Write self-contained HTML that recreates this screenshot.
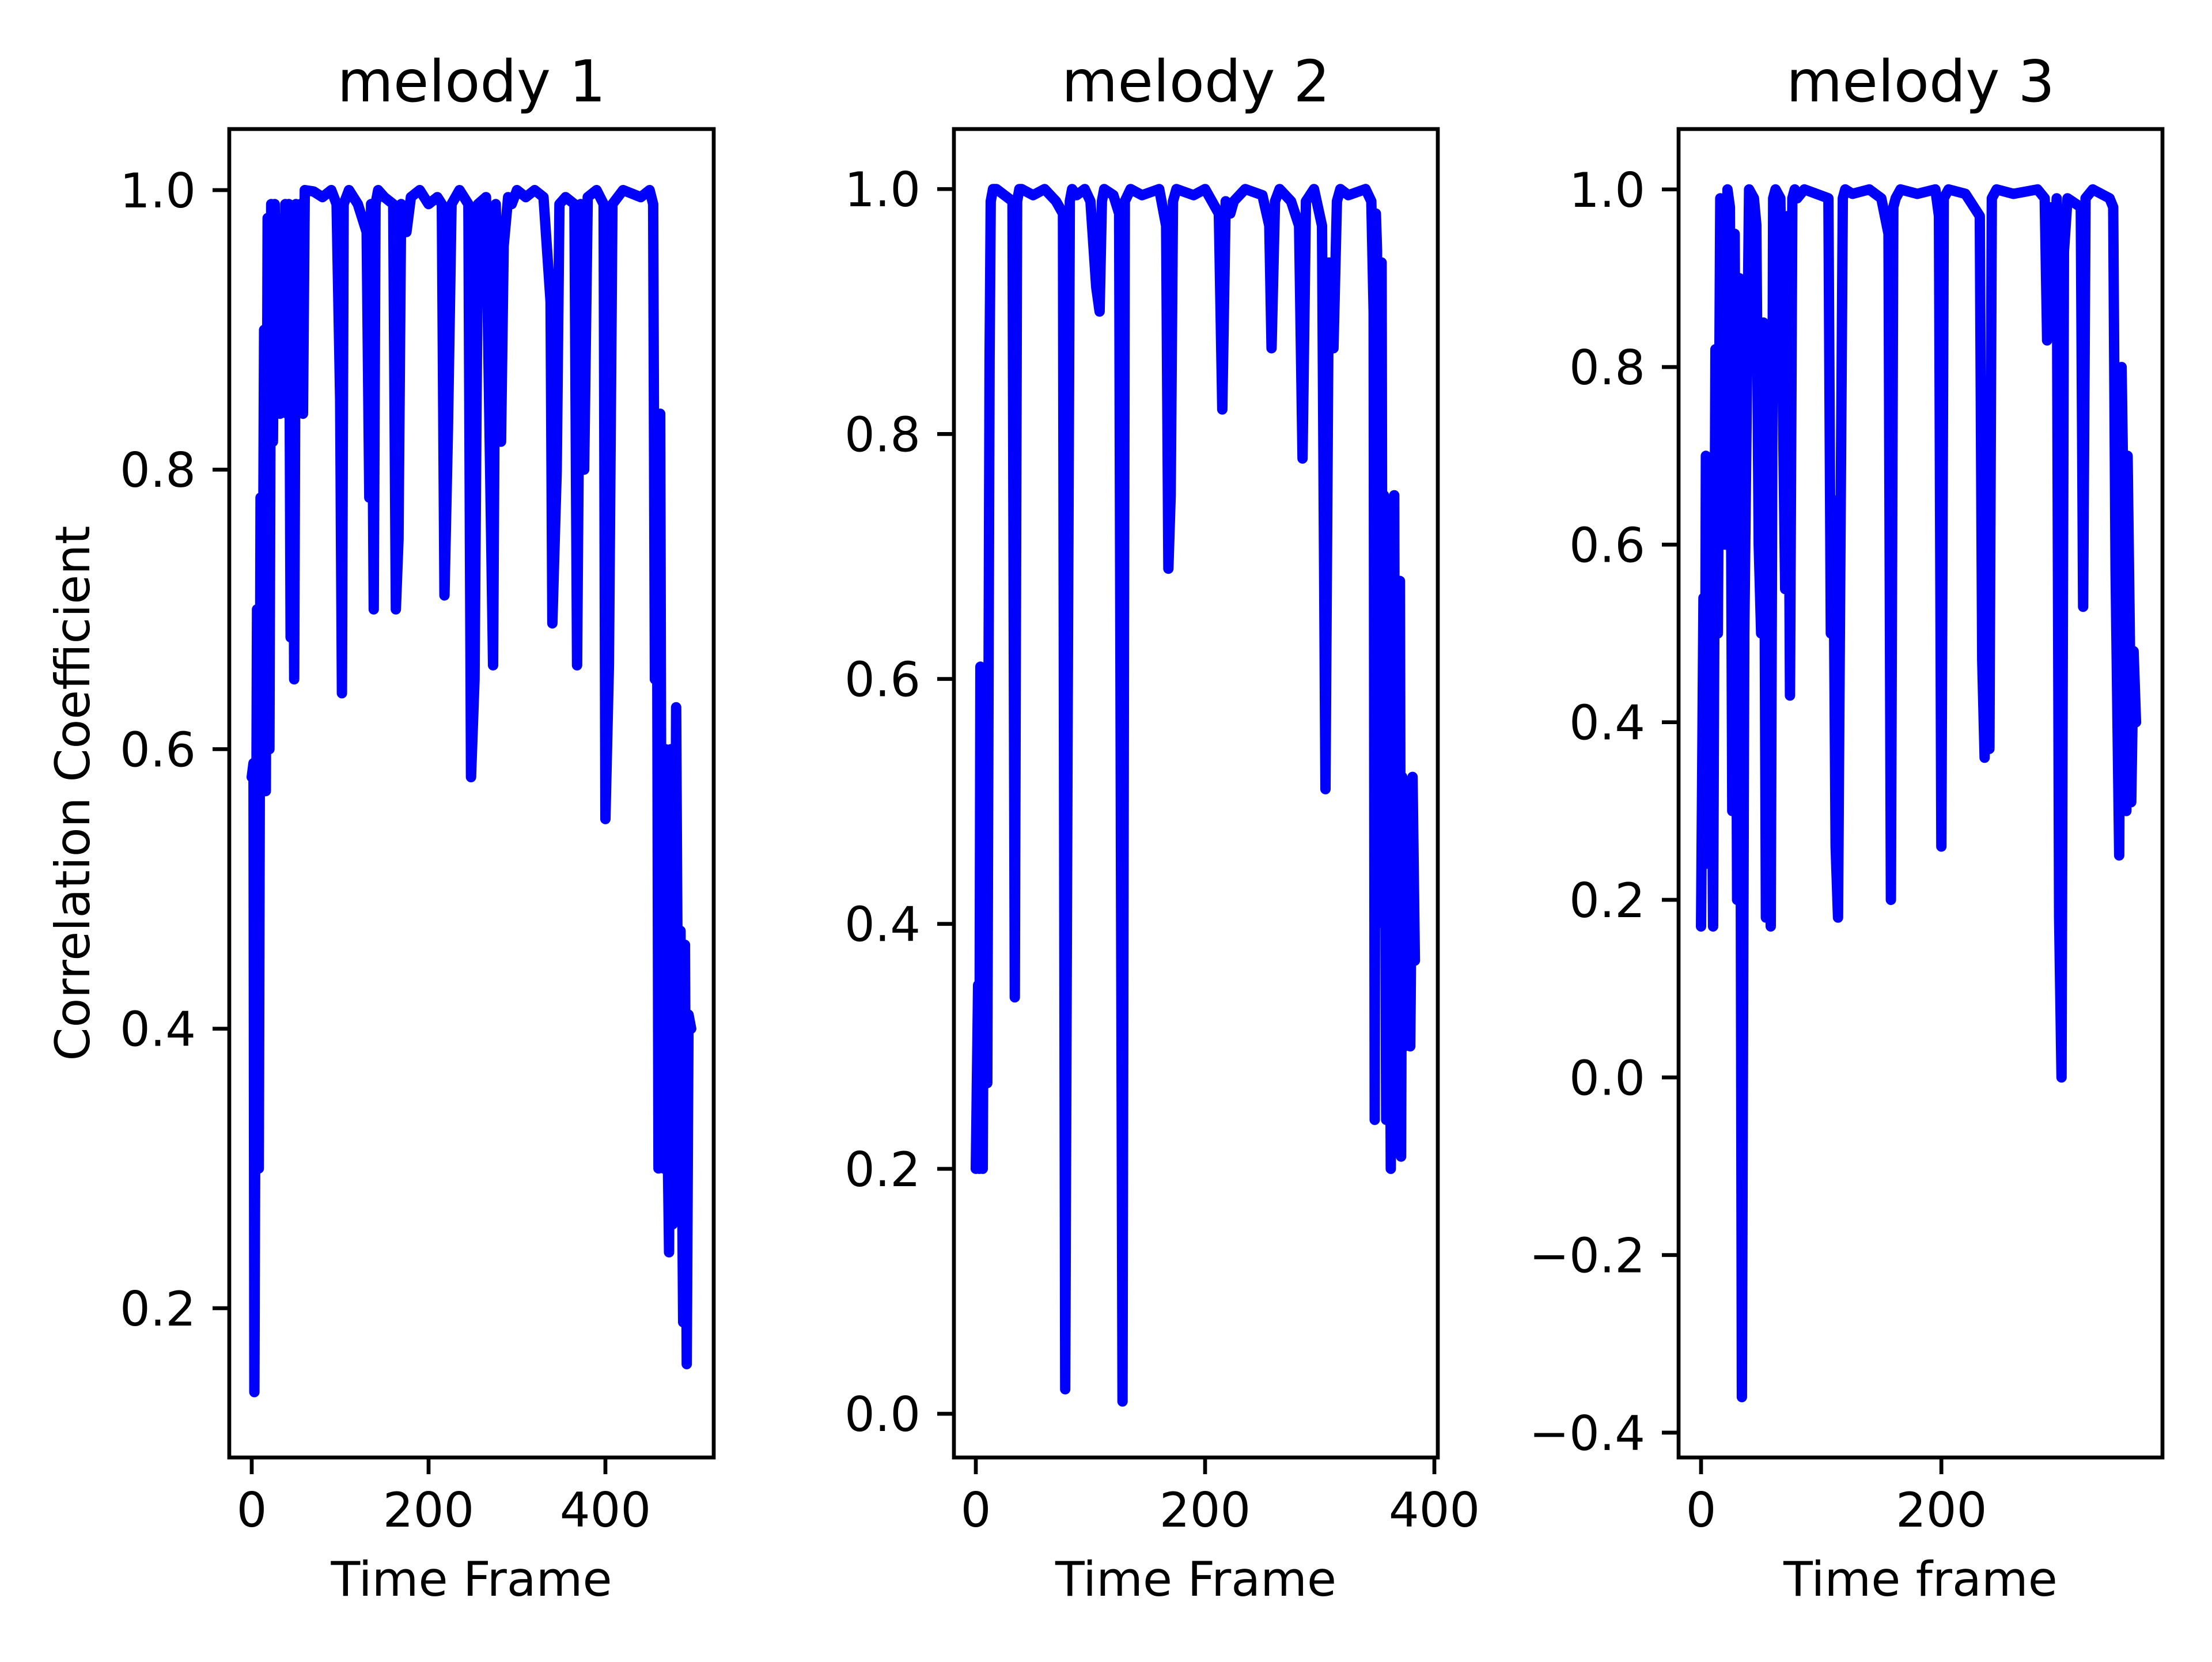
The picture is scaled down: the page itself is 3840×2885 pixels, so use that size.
<!DOCTYPE html>
<html><head><meta charset="utf-8"><style>
html,body{margin:0;padding:0;background:#fff;}
svg text{font-family:"DejaVu Sans","Liberation Sans",sans-serif;fill:#000;}
</style></head><body>
<svg id="fig" width="3840" height="2880" viewBox="0 0 3840 2880" xmlns="http://www.w3.org/2000/svg">
<rect width="3840" height="2880" fill="#fff"/>
</svg>
<script>
// ---- data ----
const m1X=[0,2,3,6,8,10,12,14,16,18,20,22,24,26,28,30,32,34,36,38,40,42,44,46,48,50,52,55,58,60,70,80,90,96,100,102,104,110,120,130,133,135,138,140,143,150,160,163,166,169,175,180,190,200,210,215,218,222,226,235,245,248,252,256,265,273,276,282,285,290,294,300,310,320,330,338,340,345,348,355,365,368,372,376,380,390,398,400,404,408,420,440,450,454,456,458,460,462,464,466,468,470,472,474,476,478,480,482,483,485,486,488,490,492,494,497];
const m1Y=[0.58,0.59,0.14,0.70,0.30,0.78,0.60,0.90,0.57,0.98,0.60,0.99,0.82,0.99,0.85,0.98,0.84,0.98,0.86,0.99,0.84,0.99,0.68,0.98,0.65,0.99,0.85,0.99,0.84,1.0,0.999,0.995,1.0,0.99,0.85,0.64,0.99,1.0,0.99,0.97,0.78,0.99,0.70,0.99,1.0,0.995,0.99,0.70,0.75,0.99,0.97,0.995,1.0,0.99,0.995,0.99,0.71,0.83,0.99,1.0,0.99,0.58,0.65,0.99,0.995,0.66,0.99,0.82,0.96,0.995,0.99,1.0,0.995,1.0,0.995,0.92,0.69,0.80,0.99,0.995,0.99,0.66,0.99,0.80,0.995,1.0,0.99,0.55,0.66,0.99,1.0,0.995,1.0,0.99,0.65,0.84,0.30,0.84,0.35,0.30,0.60,0.34,0.24,0.60,0.26,0.33,0.63,0.40,0.31,0.47,0.35,0.19,0.46,0.16,0.41,0.40];
const m2X=[0,2,3,4,6,8,10,12,13,15,18,25,32,34,36,38,40,50,60,70,76,78,80,82,84,88,95,100,105,108,110,112,120,125,128,130,135,145,160,166,168,170,172,175,190,200,212,215,218,222,225,235,250,256,258,261,265,275,282,285,288,295,302,305,308,312,315,318,325,340,345,347,348,349,350,352,354,355,356,358,360,362,363,365,366,367,368,370,371,372,374,376,377,378,379,381,383];
const m2Y=[0.20,0.35,0.20,0.61,0.20,0.60,0.27,0.86,0.99,1.0,1.0,0.995,0.99,0.34,0.99,1.0,1.0,0.995,1.0,0.99,0.98,0.02,0.54,0.99,1.0,0.995,1.0,0.99,0.92,0.90,0.99,1.0,0.995,0.98,0.01,0.99,1.0,0.995,1.0,0.97,0.69,0.75,0.99,1.0,0.995,1.0,0.98,0.82,0.99,0.98,0.99,1.0,0.995,0.97,0.87,0.99,1.0,0.99,0.97,0.78,0.99,1.0,0.97,0.51,0.94,0.87,0.99,1.0,0.995,1.0,0.99,0.90,0.24,0.98,0.95,0.45,0.94,0.40,0.75,0.24,0.65,0.20,0.55,0.75,0.30,0.62,0.24,0.68,0.21,0.52,0.30,0.50,0.37,0.45,0.30,0.52,0.37];
const m3X=[0,2,3,4,6,8,10,12,14,16,18,20,22,24,26,28,30,32,34,36,40,44,46,48,50,52,54,56,58,60,62,66,70,72,74,76,78,80,86,96,106,108,110,112,114,116,118,120,126,140,150,156,158,160,162,166,180,195,198,200,202,206,220,232,234,236,238,240,242,246,260,280,286,288,290,292,296,298,300,302,305,316,318,320,326,340,343,345,348,350,352,354,355,357,358,360,362];
const m3Y=[0.17,0.54,0.24,0.70,0.40,0.60,0.17,0.82,0.50,0.99,0.95,0.60,1.0,0.98,0.30,0.95,0.20,0.90,-0.36,0.50,1.0,0.99,0.96,0.60,0.50,0.85,0.18,0.70,0.17,0.99,1.0,0.99,0.55,0.97,0.43,0.99,1.0,0.99,1.0,0.995,0.99,0.50,0.65,0.26,0.18,0.60,0.99,1.0,0.995,1.0,0.99,0.95,0.20,0.98,0.99,1.0,0.995,1.0,0.97,0.26,0.99,1.0,0.995,0.97,0.47,0.36,0.60,0.37,0.99,1.0,0.995,1.0,0.99,0.83,0.98,0.85,0.99,0.18,0.00,0.93,0.99,0.98,0.53,0.99,1.0,0.99,0.98,0.57,0.25,0.80,0.60,0.30,0.70,0.48,0.31,0.48,0.40];
const m1XTicks=[0,200,400], m1YTicks=[0.2,0.4,0.6,0.8,1.0];
const m2XTicks=[0,200,400], m2YTicks=[0.0,0.2,0.4,0.6,0.8,1.0];
const m3XTicks=[0,200], m3YTicks=[-0.4,-0.2,0.0,0.2,0.4,0.6,0.8,1.0];
const titles=["melody 1","melody 2","melody 3"];
const xLabels=["Time Frame","Time Frame","Time frame"];

const NS="http://www.w3.org/2000/svg";
const svg=document.getElementById('fig');
function mk(tag,attrs,parent){const e=document.createElementNS(NS,tag);for(const k in attrs)e.setAttribute(k,attrs[k]);(parent||svg).appendChild(e);return e;}
function fmt(v){const s=v.toFixed(1);return s.replace('-','\u2212');}

const panels=[
 {xs:m1X,ys:m1Y,xt:m1XTicks,yt:m1YTicks,L:398,R:1239,T:224,B:2530,xd:[-25.4,522.5],yd:[0.0932,1.0437]},
 {xs:m2X,ys:m2Y,xt:m2XTicks,yt:m2YTicks,L:1656,R:2496,T:224,B:2530,xd:[-19.1,403],yd:[-0.0357,1.049]},
 {xs:m3X,ys:m3Y,xt:m3XTicks,yt:m3YTicks,L:2914,R:3754,T:224,B:2530,xd:[-18.7,384],yd:[-0.428,1.068]}
];
panels.forEach((p,i)=>{
  const g=mk('g',{});
  
  
  const sx=v=>p.L+(v-p.xd[0])/(p.xd[1]-p.xd[0])*(p.R-p.L);
  const sy=v=>p.B-(v-p.yd[0])/(p.yd[1]-p.yd[0])*(p.B-p.T);
  let d='';p.xs.forEach((x,j)=>{d+=(j?'L':'M')+sx(x).toFixed(1)+' '+sy(p.ys[j]).toFixed(1);});
  const cp=mk('clipPath',{id:'c'+i},g);mk('rect',{x:p.L,y:p.T,width:p.R-p.L,height:p.B-p.T},cp);
  const line=mk('path',{d:d,fill:'none',stroke:'#0000ff','stroke-width':18,'stroke-linejoin':'round','stroke-linecap':'round','clip-path':'url(#c'+i+')'},g);
  
  
  const fr=mk('rect',{x:p.L,y:p.T,width:p.R-p.L,height:p.B-p.T,fill:'none',stroke:'#000','stroke-width':6.7},g);
  
  
  p.xt.forEach(t=>{const x=sx(t);mk('line',{x1:x,x2:x,y1:p.B,y2:p.B+29,stroke:'#000','stroke-width':6.7},g);
    const tx=mk('text',{x:x,y:p.B+29+29+62,'font-size':83,'text-anchor':'middle'},g);tx.textContent=String(t);
    
    });
  p.yt.forEach(t=>{const y=sy(t);mk('line',{x1:p.L-29,x2:p.L,y1:y,y2:y,stroke:'#000','stroke-width':6.7},g);
    const tx=mk('text',{x:p.L-29-29,y:y+30,'font-size':83,'text-anchor':'end'},g);tx.textContent=fmt(t);
    
    });
  const cx=(p.L+p.R)/2;
  const ti=mk('text',{x:cx,y:176,'font-size':100,'text-anchor':'middle'},g);ti.textContent=titles[i];
  
  
  const xl=mk('text',{x:cx,y:2770,'font-size':83,'text-anchor':'middle'},g);xl.textContent=xLabels[i];
  
  
});
const yl=mk('text',{x:0,y:0,'font-size':83,'text-anchor':'middle',transform:'translate(155,1377) rotate(-90)'});
yl.textContent='Correlation Coefficient';


</script>
</body></html>
